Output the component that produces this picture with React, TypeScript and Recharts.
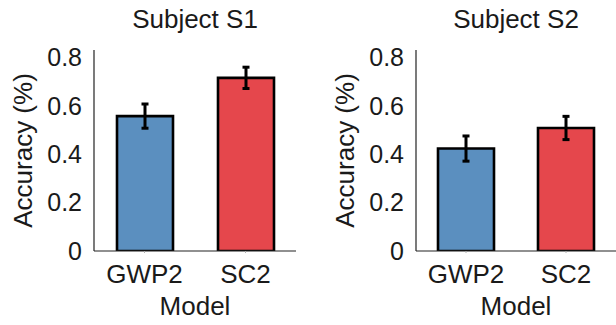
import React from 'react';
import { BarChart, Bar, XAxis, YAxis, ErrorBar, Cell } from 'recharts';

const categories = ['GWP2', 'SC2'];
const s1Values = [0.557, 0.715];
const s1Errors = [0.05, 0.044];
const s2Values = [0.423, 0.508];
const s2Errors = [0.052, 0.048];
const barColors = ['#5b8fbf', '#e5474c'];
const yTicks = [0, 0.2, 0.4, 0.6, 0.8];
const titles = ['Subject S1', 'Subject S2'];

const FONT = '"Liberation Sans", Arial, sans-serif';
const TEXT = '#1a1a1a';

function makeData(values: number[], errors: number[]) {
  return categories.map((c, i) => ({ model: c, acc: values[i], err: errors[i] }));
}

function YLabel(props: any) {
  const vb = props.viewBox || {};
  const cx = vb.x + vb.width - 71;
  const cy = vb.y + vb.height / 2;
  return (
    <text
      x={cx}
      y={cy}
      transform={`rotate(-90 ${cx} ${cy})`}
      textAnchor="middle"
      dominantBaseline="central"
      fontSize={26}
      fontFamily={FONT}
      fill={TEXT}
    >
      Accuracy (%)
    </text>
  );
}

function Panel({ values, errors, yAxisWidth, rightMargin, title }: any) {
  const data = makeData(values, errors);
  const width = 308;
  return (
    <div style={{ position: 'relative', width, height: 325 }}>
      <BarChart
        width={width}
        height={325}
        data={data}
        margin={{ top: 50, right: rightMargin, left: 0, bottom: 0 }}
        barSize={56}
      >
        <XAxis
          dataKey="model"
          height={74}
          axisLine={{ stroke: '#222', strokeWidth: 1.2 }}
          tickLine={{ stroke: '#b0b0b0' }}
          tickSize={2}
          tickMargin={12}
          tick={{ fontSize: 26, fontFamily: FONT, fill: TEXT }}
          label={{ value: 'Model', position: 'insideBottom', offset: 10, fontSize: 26, fontFamily: FONT, fill: TEXT }}
        />
        <YAxis
          width={yAxisWidth}
          domain={[0, 0.83]}
          ticks={yTicks}
          allowDataOverflow
          axisLine={{ stroke: '#222', strokeWidth: 1.2 }}
          tickLine={false}
          tickSize={0}
          tickMargin={12}
          tick={{ fontSize: 25, fontFamily: FONT, fill: TEXT }}
          label={{ content: YLabel }}
        />
        <Bar dataKey="acc" stroke="#000" strokeWidth={2.6} isAnimationActive={false}>
          {data.map((d, i) => (
            <Cell key={d.model} fill={barColors[i]} />
          ))}
          <ErrorBar dataKey="err" width={3.5} stroke="#000" strokeWidth={3} />
        </Bar>
      </BarChart>
      <svg style={{ position: 'absolute', left: 0, top: 0 }} width={width} height={40}>
        <text
          x={yAxisWidth + (width - yAxisWidth - rightMargin) / 2}
          y={28}
          textAnchor="middle"
          fontSize={26}
          fontFamily={FONT}
          fill={TEXT}
        >
          {title}
        </text>
      </svg>
    </div>
  );
}

export default function App() {
  return (
    <div style={{ position: 'absolute', left: 0, top: 0, width: 616, height: 325, display: 'flex', background: '#fff' }}>
      <Panel values={s1Values} errors={s1Errors} yAxisWidth={94} rightMargin={12} title={titles[0]} />
      <Panel values={s2Values} errors={s2Errors} yAxisWidth={108} rightMargin={0} title={titles[1]} />
    </div>
  );
}
